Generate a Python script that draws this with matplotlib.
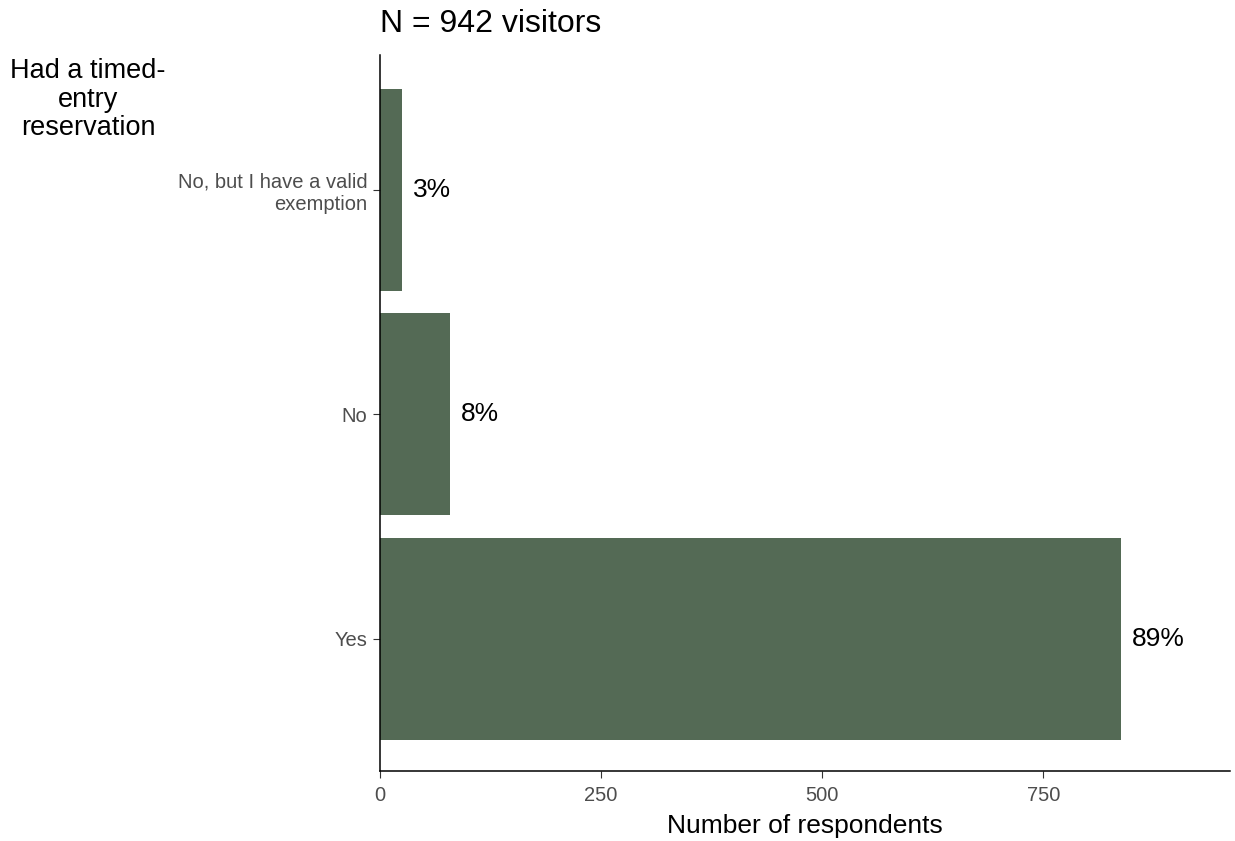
import numpy as np
import matplotlib
matplotlib.use('Agg')
import matplotlib.pyplot as plt

categories = ['Yes', 'No', 'No, but I have a valid\nexemption']
counts = [838, 79, 25]
total = 942
pct_labels = ['89%', '8%', '3%']

bar_col = '#546a55'
tick_col = '#4d4d4d'

plt.rc('font', family=['Liberation Sans', 'DejaVu Sans'])

fig = plt.figure(figsize=(12.35, 8.41), dpi=100)
ax = fig.add_axes([380/1235, 1 - 771/841, (1230-380)/1235, (771-55)/841])

pos = np.arange(1, len(categories) + 1)
ax.barh(pos, counts, height=0.9, color=bar_col)
for p, c, lab in zip(pos, counts, pct_labels):
    ax.text(c + 12, p, lab, va='center', ha='left', fontsize=19, color='black')

ax.set_xlim(0, 961)
ax.set_ylim(0.41, 3.6)
ax.set_xticks([0, 250, 500, 750])
ax.set_yticks(pos)
ax.set_yticklabels(categories, fontsize=14.5, color=tick_col, linespacing=1.2)
ax.tick_params(axis='x', labelsize=14.5, labelcolor=tick_col, color='#333333', length=5, pad=6)
ax.tick_params(axis='y', color='#333333', length=5, pad=4)

for s in ['top', 'right']:
    ax.spines[s].set_visible(False)
for s in ['left', 'bottom']:
    ax.spines[s].set_linewidth(1.1)
    ax.spines[s].set_color('black')

ax.set_xlabel('Number of respondents', fontsize=19, labelpad=6)
fig.text(380/1235, 1 - 24/841, 'N = %d visitors' % total, fontsize=23, va='center', ha='left')
fig.text(88/1235, 1 - 58/841, 'Had a timed-\nentry\nreservation', fontsize=19.5,
         ha='center', va='top', linespacing=1.13)

fig.savefig('out.png', dpi=100)
